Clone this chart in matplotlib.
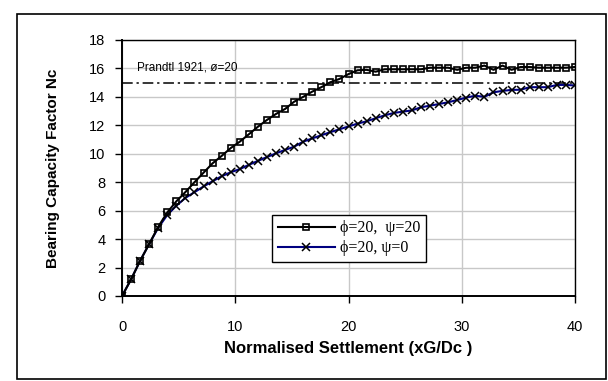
import matplotlib
matplotlib.use("Agg")
import matplotlib.pyplot as plt
from matplotlib.patches import Rectangle

# settlement values (xG/Dc), step 0.8
settlement = [round(0.8 * i, 1) for i in range(51)]

nc_psi20 = [0, 1.17, 2.48, 3.66, 4.87, 5.88, 6.66, 7.31, 8.0, 8.67,
            9.33, 9.85, 10.4, 10.85, 11.37, 11.9, 12.38, 12.8, 13.15, 13.66,
            14.0, 14.37, 14.68, 15.03, 15.26, 15.6, 15.87, 15.9, 15.77, 15.94,
            15.94, 15.94, 15.94, 15.94, 16.05, 16.05, 16.05, 15.9, 16.05, 16.05,
            16.2, 15.9, 16.2, 15.9, 16.1, 16.1, 16.05, 16.05, 16.05, 16.05, 16.1]

nc_psi0 = [0, 1.17, 2.48, 3.66, 4.8, 5.7, 6.35, 6.9, 7.3, 7.7,
           8.07, 8.42, 8.7, 8.92, 9.22, 9.5, 9.77, 10.03, 10.27, 10.5,
           10.85, 11.08, 11.3, 11.52, 11.72, 11.92, 12.12, 12.28, 12.5, 12.7,
           12.87, 12.96, 13.05, 13.27, 13.38, 13.5, 13.62, 13.78, 13.95, 14.08,
           14.0, 14.32, 14.42, 14.49, 14.5, 14.68, 14.68, 14.68, 14.84, 14.84, 14.8]

prandtl_nc = 15.0
xticks = [0, 10, 20, 30, 40]
yticks = list(range(0, 19, 2))

plt.rcParams['font.family'] = ['Liberation Sans', 'DejaVu Sans']

fig = plt.figure(figsize=(6.08, 3.81), dpi=100)
ax = fig.add_axes([0.2007, 0.2231, 0.745, 0.672])

ax.axhline(prandtl_nc, color='black', lw=1.1, ls=(0, (7, 2.5, 1.5, 2.5)), zorder=2)
ax.text(1.3, 16.05, "Prandtl 1921, ø=20", fontsize=8.5, va='center', ha='left')

ax.plot(settlement, nc_psi20, color='black', lw=1.5, marker='s', ms=4.5,
        mfc='none', mec='black', mew=1.2, label='ϕ=20,  ψ=20', zorder=4)
ax.plot(settlement, nc_psi0, color='#000080', lw=1.5, marker='x', ms=5.5,
        mec='black', mew=1.1, label='ϕ=20, ψ=0', zorder=3)

ax.set_xlim(0, 40)
ax.set_ylim(0, 18)
ax.set_xticks(xticks)
ax.set_yticks(yticks)
ax.tick_params(axis='both', direction='out', length=5, width=1, labelsize=10.5)
ax.tick_params(axis='x', pad=12)
ax.tick_params(axis='y', pad=7)
ax.grid(True, color='#c8c8c8', lw=1)
ax.set_axisbelow(True)
for s in ax.spines.values():
    s.set_color('black')
    s.set_linewidth(1)
ax.spines['left'].set_linewidth(1.4)
ax.spines['bottom'].set_linewidth(1.4)

ax.set_xlabel("Normalised Settlement (xG/Dc )", fontsize=12, fontweight='bold', labelpad=5)
ax.set_ylabel("Bearing Capacity Factor Nc", fontsize=11, fontweight='bold', labelpad=21)

leg = ax.legend(loc='lower left', bbox_to_anchor=(0.331, 0.133), fancybox=False,
                edgecolor='black', framealpha=1, handlelength=3.6, handletextpad=0.3,
                borderpad=0.35, labelspacing=0.25, borderaxespad=0,
                prop={'family': ['Liberation Serif', 'DejaVu Serif'], 'size': 11.5})
leg.get_frame().set_linewidth(1)

fig.patches.append(Rectangle((17 / 608, 2 / 381), 589 / 608, 365 / 381,
                             transform=fig.transFigure, fill=False,
                             edgecolor='black', lw=1.2))

fig.savefig("out.png", dpi=100)
